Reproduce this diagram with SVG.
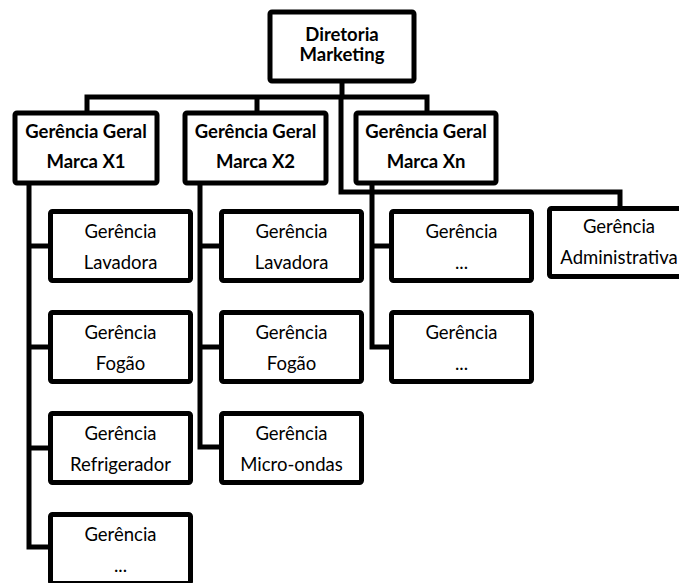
<svg xmlns="http://www.w3.org/2000/svg" width="679" height="583" viewBox="0 0 679 583">
  <style>
    .box { fill: #ffffff; stroke: #000000; stroke-width: 5; }
    .wire { fill: none; stroke: #000000; stroke-width: 5; stroke-linejoin: miter; stroke-linecap: butt; }
    .hd { font-family: Lato, "Liberation Sans", sans-serif; font-weight: bold; font-size: 18.5px; fill: #000; text-anchor: middle; }
    .tx { font-family: Lato, "Liberation Sans", sans-serif; font-size: 18.5px; fill: #000; text-anchor: middle; }
  </style>
  <rect width="679" height="583" fill="#ffffff"/>

  <!-- connectors -->
  <g id="connectors">
    <line class="wire" x1="342" y1="80" x2="342" y2="97"/>
    <polyline class="wire" points="87,113 87,97 427,97 427,113"/>
    <line class="wire" x1="257" y1="97" x2="257" y2="113"/>
    <polyline class="wire" points="341,97 341,192 620,192 620,208"/>
    <!-- Marca X1 branches -->
    <polyline class="wire" points="29,183 29,547 50,547"/>
    <line class="wire" x1="29" y1="246" x2="50" y2="246"/>
    <line class="wire" x1="29" y1="347" x2="50" y2="347"/>
    <line class="wire" x1="29" y1="448" x2="50" y2="448"/>
    <!-- Marca X2 branches -->
    <polyline class="wire" points="200,183 200,447 221,447"/>
    <line class="wire" x1="200" y1="246" x2="221" y2="246"/>
    <line class="wire" x1="200" y1="347" x2="221" y2="347"/>
    <!-- Marca Xn branches -->
    <polyline class="wire" points="372,183 372,347 391,347"/>
    <line class="wire" x1="372" y1="246" x2="391" y2="246"/>
  </g>

  <g id="diretoria">
    <rect class="box" x="270" y="12" width="144" height="69" rx="2"/>
    <text class="hd" x="342" y="41">Diretoria</text>
    <text class="hd" x="342" y="61">Marketing</text>
  </g>

  <g id="marca-x1">
    <rect class="box" x="15" y="113" width="142" height="70" rx="2"/>
    <text class="hd" x="86" y="138">Gerência Geral</text>
    <text class="hd" x="86" y="168">Marca X1</text>
  </g>
  <g id="marca-x2">
    <rect class="box" x="185" y="113" width="141" height="70" rx="2"/>
    <text class="hd" x="255.5" y="138">Gerência Geral</text>
    <text class="hd" x="255.5" y="168">Marca X2</text>
  </g>
  <g id="marca-xn">
    <rect class="box" x="356" y="113" width="140" height="70" rx="2"/>
    <text class="hd" x="426" y="138">Gerência Geral</text>
    <text class="hd" x="426" y="168">Marca Xn</text>
  </g>

  <!-- Marca X1 units -->
  <g id="x1-lavadora">
    <rect class="box" x="50.5" y="211.5" width="140" height="69" rx="2"/>
    <text class="tx" x="120.5" y="238">Gerência</text>
    <text class="tx" x="120.5" y="269">Lavadora</text>
  </g>
  <g id="x1-fogao">
    <rect class="box" x="50.5" y="312.5" width="140" height="69" rx="2"/>
    <text class="tx" x="120.5" y="339">Gerência</text>
    <text class="tx" x="120.5" y="370">Fogão</text>
  </g>
  <g id="x1-refrigerador">
    <rect class="box" x="50.5" y="413.5" width="140" height="69" rx="2"/>
    <text class="tx" x="120.5" y="440">Gerência</text>
    <text class="tx" x="120.5" y="471">Refrigerador</text>
  </g>
  <g id="x1-outros">
    <rect class="box" x="50.5" y="514.5" width="140" height="69" rx="2"/>
    <text class="tx" x="120.5" y="541">Gerência</text>
    <text class="tx" x="120.5" y="572">...</text>
  </g>

  <!-- Marca X2 units -->
  <g id="x2-lavadora">
    <rect class="box" x="221.5" y="211.5" width="140" height="69" rx="2"/>
    <text class="tx" x="291.5" y="238">Gerência</text>
    <text class="tx" x="291.5" y="269">Lavadora</text>
  </g>
  <g id="x2-fogao">
    <rect class="box" x="221.5" y="312.5" width="140" height="69" rx="2"/>
    <text class="tx" x="291.5" y="339">Gerência</text>
    <text class="tx" x="291.5" y="370">Fogão</text>
  </g>
  <g id="x2-microondas">
    <rect class="box" x="221.5" y="413.5" width="140" height="69" rx="2"/>
    <text class="tx" x="291.5" y="440">Gerência</text>
    <text class="tx" x="291.5" y="471">Micro-ondas</text>
  </g>

  <!-- Marca Xn units -->
  <g id="xn-outros-1">
    <rect class="box" x="391.5" y="211.5" width="140" height="69" rx="2"/>
    <text class="tx" x="461.5" y="238">Gerência</text>
    <text class="tx" x="461.5" y="269">...</text>
  </g>
  <g id="xn-outros-2">
    <rect class="box" x="391.5" y="312.5" width="140" height="69" rx="2"/>
    <text class="tx" x="461.5" y="339">Gerência</text>
    <text class="tx" x="461.5" y="370">...</text>
  </g>

  <g id="administrativa">
    <rect class="box" x="549.5" y="208.5" width="140" height="68" rx="2"/>
    <text class="tx" x="619" y="233">Gerência</text>
    <text class="tx" x="619" y="264">Administrativa</text>
  </g>
</svg>
